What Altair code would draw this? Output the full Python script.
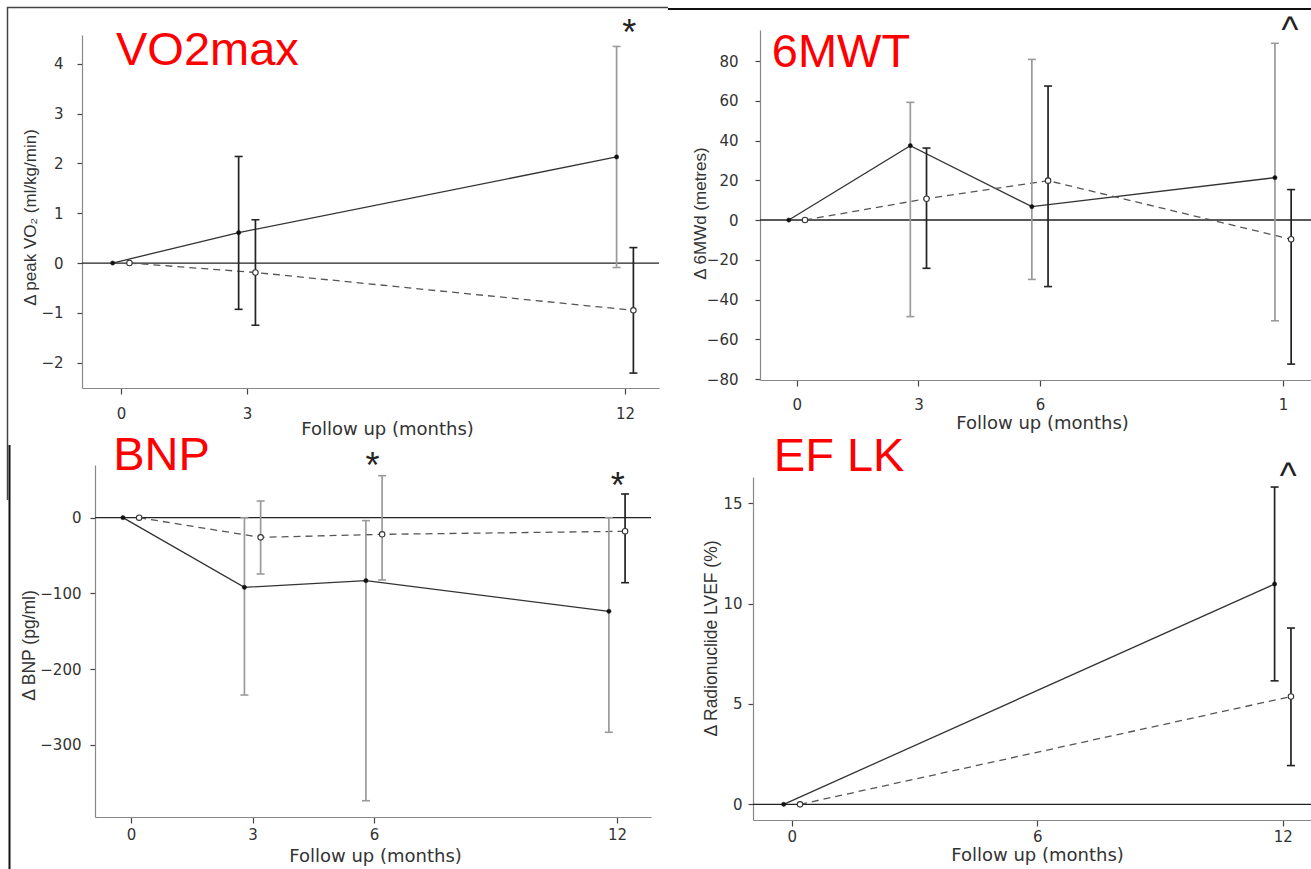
import altair as alt
import pandas as pd

# ---------------- data ----------------
# VO2max panel
vo2_months = [0, 3, 12]
vo2_solid = [0.0, 0.61, 2.13]
vo2_solid_lo = [0.0, -0.93, -0.09]
vo2_solid_hi = [0.0, 2.14, 4.35]
vo2_solid_bar = ["none", "black", "grey"]
vo2_dash = [0.0, -0.19, -0.95]
vo2_dash_lo = [0.0, -1.25, -2.21]
vo2_dash_hi = [0.0, 0.87, 0.31]
vo2_dash_bar = ["none", "black", "black"]

# 6MWT panel
mwt_months = [0, 3, 6, 12]
mwt_solid = [0.0, 37.4, 6.7, 21.3]
mwt_solid_lo = [0.0, -48.6, -29.9, -50.7]
mwt_solid_hi = [0.0, 59.2, 80.8, 88.9]
mwt_solid_bar = ["none", "grey", "grey", "grey"]
mwt_dash = [0.0, 10.7, 19.8, -9.7]
mwt_dash_lo = [0.0, -24.3, -33.5, -72.5]
mwt_dash_hi = [0.0, 36.2, 67.4, 15.3]
mwt_dash_bar = ["none", "black", "black", "black"]

# BNP panel
bnp_months = [0, 3, 6, 12]
bnp_solid = [0.0, -92.0, -83.2, -123.7]
bnp_solid_lo = [0.0, -234.3, -374.0, -283.6]
bnp_solid_hi = [0.0, 0.0, -3.9, 0.0]
bnp_solid_bar = ["none", "grey", "grey", "grey"]
bnp_dash = [0.0, -26.0, -22.0, -18.0]
bnp_dash_lo = [0.0, -74.4, -82.3, -85.9]
bnp_dash_hi = [0.0, 22.0, 55.5, 31.3]
bnp_dash_bar = ["none", "grey", "grey", "black"]

# EF LK panel
ef_months = [0, 12]
ef_solid = [0.0, 10.97]
ef_solid_lo = [0.0, 6.15]
ef_solid_hi = [0.0, 15.8]
ef_solid_bar = ["none", "black"]
ef_dash = [0.0, 5.37]
ef_dash_lo = [0.0, 1.93]
ef_dash_hi = [0.0, 8.78]
ef_dash_bar = ["none", "black"]

# tick values
vo2_xticks = [0, 3, 12]
vo2_yticks = [-2, -1, 0, 1, 2, 3, 4]
mwt_xticks = [0, 3, 6, 12]
mwt_yticks = [-80, -60, -40, -20, 0, 20, 40, 60, 80]
bnp_xticks = [0, 3, 6, 12]
bnp_yticks = [-300, -200, -100, 0]
ef_xticks = [0, 6, 12]
ef_yticks = [0, 5, 10, 15]

# titles / annotations
panel_labels = ["VO2max", "6MWT", "BNP", "EF LK"]
y_titles = ["\u0394 peak VO\u2082 (ml/kg/min)", "\u0394 6MWd (metres)",
            "\u0394 BNP (pg/ml)", "\u0394 Radionuclide LVEF (%)"]
x_title = "Follow up (months)"
# significance marks: (text, month, value)
vo2_marks = [("*", 12.1, 4.94)]
mwt_marks = [("^", 12.17, 103.4)]
bnp_marks = [("*", 5.96, 89.5), ("*", 12.02, 63.0)]
ef_marks = [("^", 12.13, 17.17)]

W, H = 1311, 869
GREY = "#9a9a9a"
BLACK = "#222222"


def series_df(months, s, slo, shi, sbar, d, dlo, dhi, dbar):
    rows = []
    for m, v, lo, hi, b in zip(months, s, slo, shi, sbar):
        rows.append(dict(month=m, value=v, lo=lo, hi=hi, bar=b, group="intervention"))
    for m, v, lo, hi, b in zip(months, d, dlo, dhi, dbar):
        rows.append(dict(month=m, value=v, lo=lo, hi=hi, bar=b, group="control"))
    return pd.DataFrame(rows)


def make_panel(df, xdom, xrng, ydom, yrng, xticks, yticks, xax, yax, label, label_xy, marks):
    xs = alt.Scale(domain=xdom, range=xrng, nice=False, zero=False)
    ys = alt.Scale(domain=ydom, range=yrng, nice=False, zero=False)

    x_axis = alt.Axis(
        orient="bottom", offset=xax["pos"] - H, values=xticks, title=x_title,
        titleX=xax["tx"], titleY=xax["ty"], titleAngle=0, titleAlign="center",
        titleBaseline="middle", titleFont="DejaVu Sans", titleFontSize=18,
        titleFontWeight="normal", titleColor="#333333",
        labelFont="DejaVu Sans", labelFontSize=15, labelColor="#333333",
        labelPadding=xax["lp"], labelFlush=False, labelOverlap=False,
        labelBaseline="top",
        tickSize=6, tickColor="#444444", tickWidth=1.2,
        domainColor="#888888", domainWidth=1.2, grid=False,
        **({"labelExpr": xax["expr"]} if "expr" in xax else {}),
    )
    y_axis = alt.Axis(
        orient="left", offset=-yax["pos"], values=yticks, title=yax["title"],
        titleX=yax["tx"], titleY=yax["ty"], titleAngle=270, titleAlign="center",
        titleBaseline="middle", titleFont="Liberation Sans", titleFontSize=yax["tfs"],
        titleFontWeight="normal", titleColor="#333333",
        labelFont="DejaVu Sans", labelFontSize=15, labelColor="#333333",
        labelPadding=yax["lp"], labelFlush=False, labelOverlap=False,
        tickSize=5, tickColor="#444444", tickWidth=1.2,
        domainColor="#888888", domainWidth=1.2, grid=False,
    )

    zero_df = pd.DataFrame({"x0": [xdom[0]], "x1": [xdom[1]], "y": [0.0]})
    zero = alt.Chart(zero_df).mark_rule(color="#222222", strokeWidth=1.3).encode(
        x=alt.X("x0:Q", scale=xs, axis=x_axis),
        x2="x1:Q",
        y=alt.Y("y:Q", scale=ys, axis=y_axis),
    )

    base = alt.Chart(df).transform_calculate(
        xpos="datum.month + (datum.group == 'intervention' ? -0.2 : 0.2)"
    )
    X = alt.X("xpos:Q", scale=xs, axis=None)

    def Y(f):
        return alt.Y(f, scale=ys, axis=None)

    line_i = base.transform_filter("datum.group == 'intervention'").mark_line(
        color="#333333", strokeWidth=1.3
    ).encode(x=X, y=Y("value:Q"))
    line_c = base.transform_filter("datum.group == 'control'").mark_line(
        color="#555555", strokeWidth=1.3, strokeDash=[7, 5]
    ).encode(x=X, y=Y("value:Q"))

    bars = base.transform_filter("datum.bar != 'none'")
    col = alt.Color("bar:N", scale=alt.Scale(domain=["grey", "black"], range=[GREY, BLACK]), legend=None)
    err = bars.mark_rule(strokeWidth=1.7).encode(x=X, y=Y("lo:Q"), y2="hi:Q", color=col)
    cap_lo = bars.mark_tick(orient="horizontal", size=8, thickness=1.6, opacity=1).encode(
        x=X, y=Y("lo:Q"), color=col)
    cap_hi = bars.mark_tick(orient="horizontal", size=8, thickness=1.6, opacity=1).encode(
        x=X, y=Y("hi:Q"), color=col)

    pts_i = base.transform_filter("datum.group == 'intervention'").mark_point(
        shape="circle", size=18, filled=True, fill="#111111", stroke="#111111",
        strokeWidth=0.5, opacity=1
    ).encode(x=X, y=Y("value:Q"))
    pts_c = base.transform_filter("datum.group == 'control'").mark_point(
        shape="circle", size=30, filled=True, fill="white", stroke="#333333",
        strokeWidth=1.1, opacity=1
    ).encode(x=X, y=Y("value:Q"))

    lab_df = pd.DataFrame({"t": [label], "x": [label_xy[0]], "y": [label_xy[1]]})
    lab = alt.Chart(lab_df).mark_text(
        font="Liberation Sans", fontSize=47, color="#ff0000", align="left",
        baseline="alphabetic"
    ).encode(x=alt.X("x:Q", scale=xs, axis=None), y=Y("y:Q"), text="t:N")

    mk_df = pd.DataFrame({"t": [m[0] for m in marks], "x": [m[1] for m in marks],
                          "y": [m[2] for m in marks]})
    mk = alt.Chart(mk_df).mark_text(
        font="Liberation Sans", fontSize=36, color="#222222", align="center",
        baseline="top"
    ).encode(x=alt.X("x:Q", scale=xs, axis=None), y=Y("y:Q"), text="t:N")

    return [zero, line_i, line_c, err, cap_lo, cap_hi, pts_i, pts_c, lab, mk]


p1 = make_panel(
    series_df(vo2_months, vo2_solid, vo2_solid_lo, vo2_solid_hi, vo2_solid_bar,
              vo2_dash, vo2_dash_lo, vo2_dash_hi, vo2_dash_bar),
    [-0.93, 12.81], [82, 659], [-2.51, 4.58], [388, 35], vo2_xticks, vo2_yticks,
    dict(pos=388, tx=387, ty=41, lp=12),
    dict(pos=82, tx=-52, ty=217, lp=14, tfs=17, title=y_titles[0]),
    panel_labels[0], (-0.12, 3.98), vo2_marks,
)
p2 = make_panel(
    series_df(mwt_months, mwt_solid, mwt_solid_lo, mwt_solid_hi, mwt_solid_bar,
              mwt_dash, mwt_dash_lo, mwt_dash_hi, mwt_dash_bar),
    [-0.91, 12.69], [760, 1311], [-80.5, 95.6], [380, 30], mwt_xticks, mwt_yticks,
    dict(pos=380, tx=1042, ty=43, lp=11, expr="datum.value == 12 ? '1' : datum.label"),
    dict(pos=760, tx=-60, ty=213, lp=17, tfs=17, title=y_titles[1]),
    panel_labels[1], (-0.62, 77.2), mwt_marks,
)
p3 = make_panel(
    series_df(bnp_months, bnp_solid, bnp_solid_lo, bnp_solid_hi, bnp_solid_bar,
              bnp_dash, bnp_dash_lo, bnp_dash_hi, bnp_dash_bar),
    [-0.89, 12.84], [95, 651], [-395.5, 69.6], [817, 465], bnp_xticks, bnp_yticks,
    dict(pos=817, tx=375, ty=39, lp=4),
    dict(pos=95, tx=-66, ty=645, lp=9, tfs=17.5, title=y_titles[2]),
    panel_labels[2], (-0.44, 63.0), bnp_marks,
)
p4 = make_panel(
    series_df(ef_months, ef_solid, ef_solid_lo, ef_solid_hi, ef_solid_bar,
              ef_dash, ef_dash_lo, ef_dash_hi, ef_dash_bar),
    [-0.95, 12.69], [753, 1311], [-0.78, 16.3], [820, 477], ef_xticks, ef_yticks,
    dict(pos=820, tx=1037, ty=35, lp=3),
    dict(pos=753, tx=-42, ty=638, lp=6, tfs=17.5, title=y_titles[3]),
    panel_labels[3], (-0.44, 16.6), ef_marks,
)

# collage frame lines (decoration)
frame_df = pd.DataFrame({"k": [0]})
f1 = alt.Chart(frame_df).mark_rule(color="#444444", strokeWidth=1.5).encode(
    x=alt.value(7), x2=alt.value(668), y=alt.value(7.5))
f2 = alt.Chart(frame_df).mark_rule(color="#111111", strokeWidth=2).encode(
    x=alt.value(668), x2=alt.value(1311), y=alt.value(9))
f3 = alt.Chart(frame_df).mark_rule(color="#444444", strokeWidth=1.5).encode(
    x=alt.value(7.5), y=alt.value(7), y2=alt.value(500))
f4 = alt.Chart(frame_df).mark_rule(color="#111111", strokeWidth=2).encode(
    x=alt.value(9.5), y=alt.value(445), y2=alt.value(869))

chart = alt.layer(*p1, *p2, *p3, *p4, f1, f2, f3, f4).resolve_scale(
    x="independent", y="independent", color="independent"
).resolve_axis(
    x="independent", y="independent"
).properties(
    width=W, height=H, padding=0, background="white",
    autosize=alt.AutoSizeParams(type="none"),
).configure_view(stroke=None)

chart.save("out.html", embed_options={"renderer": "svg", "actions": False})
